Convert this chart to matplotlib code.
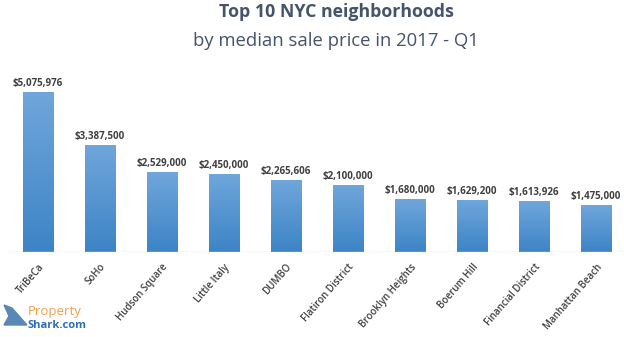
import numpy as np
import matplotlib
matplotlib.use("Agg")
import matplotlib.pyplot as plt
from matplotlib.patches import Polygon
from matplotlib.colors import LinearSegmentedColormap

# ─── Data ─────────────────────────────────────────────────────────────────────
neighborhoods = ["TriBeCa", "SoHo", "Hudson Square", "Little Italy", "DUMBO",
                 "Flatiron District", "Brooklyn Heights", "Boerum Hill",
                 "Financial District", "Manhattan Beach"]
prices = [5075976, 3387500, 2529000, 2450000, 2265606,
          2100000, 1680000, 1629200, 1613926, 1475000]

TEXT_COL  = "#404040"
TITLE_COL = "#44546a"
plt.rcParams["font.family"] = ["Open Sans", "DejaVu Sans"]

fig = plt.figure(figsize=(6.24, 3.37), dpi=100)
ax = fig.add_axes([7 / 624, 85 / 337, 617 / 624, 189 / 337])

x = np.arange(len(prices))
width = 0.49
cmap = LinearSegmentedColormap.from_list("bar", ["#3d84c6", "#6fa6db"])
grad = np.linspace(0, 1, 100).reshape(-1, 1)

bars = ax.bar(x, prices, width=width, color="none")
for b, v in zip(bars, prices):
    x0 = b.get_x()
    ax.imshow(grad, extent=[x0, x0 + width, 0, v], origin="lower",
              cmap=cmap, aspect="auto", zorder=2)
    ax.text(b.get_x() + width / 2, v + 110000, f"${v:,.0f}", ha="center",
            va="bottom", fontsize=7, fontweight="bold", color=TEXT_COL)

ax.set_xlim(-0.5, 9.45)
ax.set_ylim(0, 6000000)
ax.axhline(0, color="#d9d9d9", lw=1, zorder=3)
for s in ax.spines.values():
    s.set_visible(False)
ax.set_yticks([])
ax.set_xticks(x)
ax.set_xticklabels(neighborhoods, rotation=49, ha="right", rotation_mode="anchor",
                   fontsize=7, fontweight="semibold", color=TEXT_COL)
ax.tick_params(axis="x", length=0, pad=7)

fig.text(336 / 624, 1 - 12 / 337, "Top 10 NYC neighborhoods", ha="center",
         va="center", fontsize=12.8, fontweight="bold", color=TITLE_COL)
fig.text(336 / 624, 1 - 41 / 337, "by median sale price in 2017 - Q1", ha="center",
         va="center", fontsize=13.3, color=TITLE_COL)

# PropertyShark logo (approximation)
fin = Polygon([[4 / 624, 1 - 305 / 337], [12 / 624, 1 - 308 / 337],
               [27 / 624, 1 - 325 / 337], [4 / 624, 1 - 325 / 337],
               [9 / 624, 1 - 316 / 337]],
              closed=True, transform=fig.transFigure, color="#5b87b5")
fig.patches.append(fin)
fig.text(28 / 624, 1 - 312 / 337, "Property", ha="left", va="center",
         fontsize=9.5, color="#f0a04b")
fig.text(28 / 624, 1 - 326 / 337, "Shark.com", ha="left", va="center",
         fontsize=8, fontweight="bold", color="#2d6db5")

fig.savefig("out.png", dpi=100)
